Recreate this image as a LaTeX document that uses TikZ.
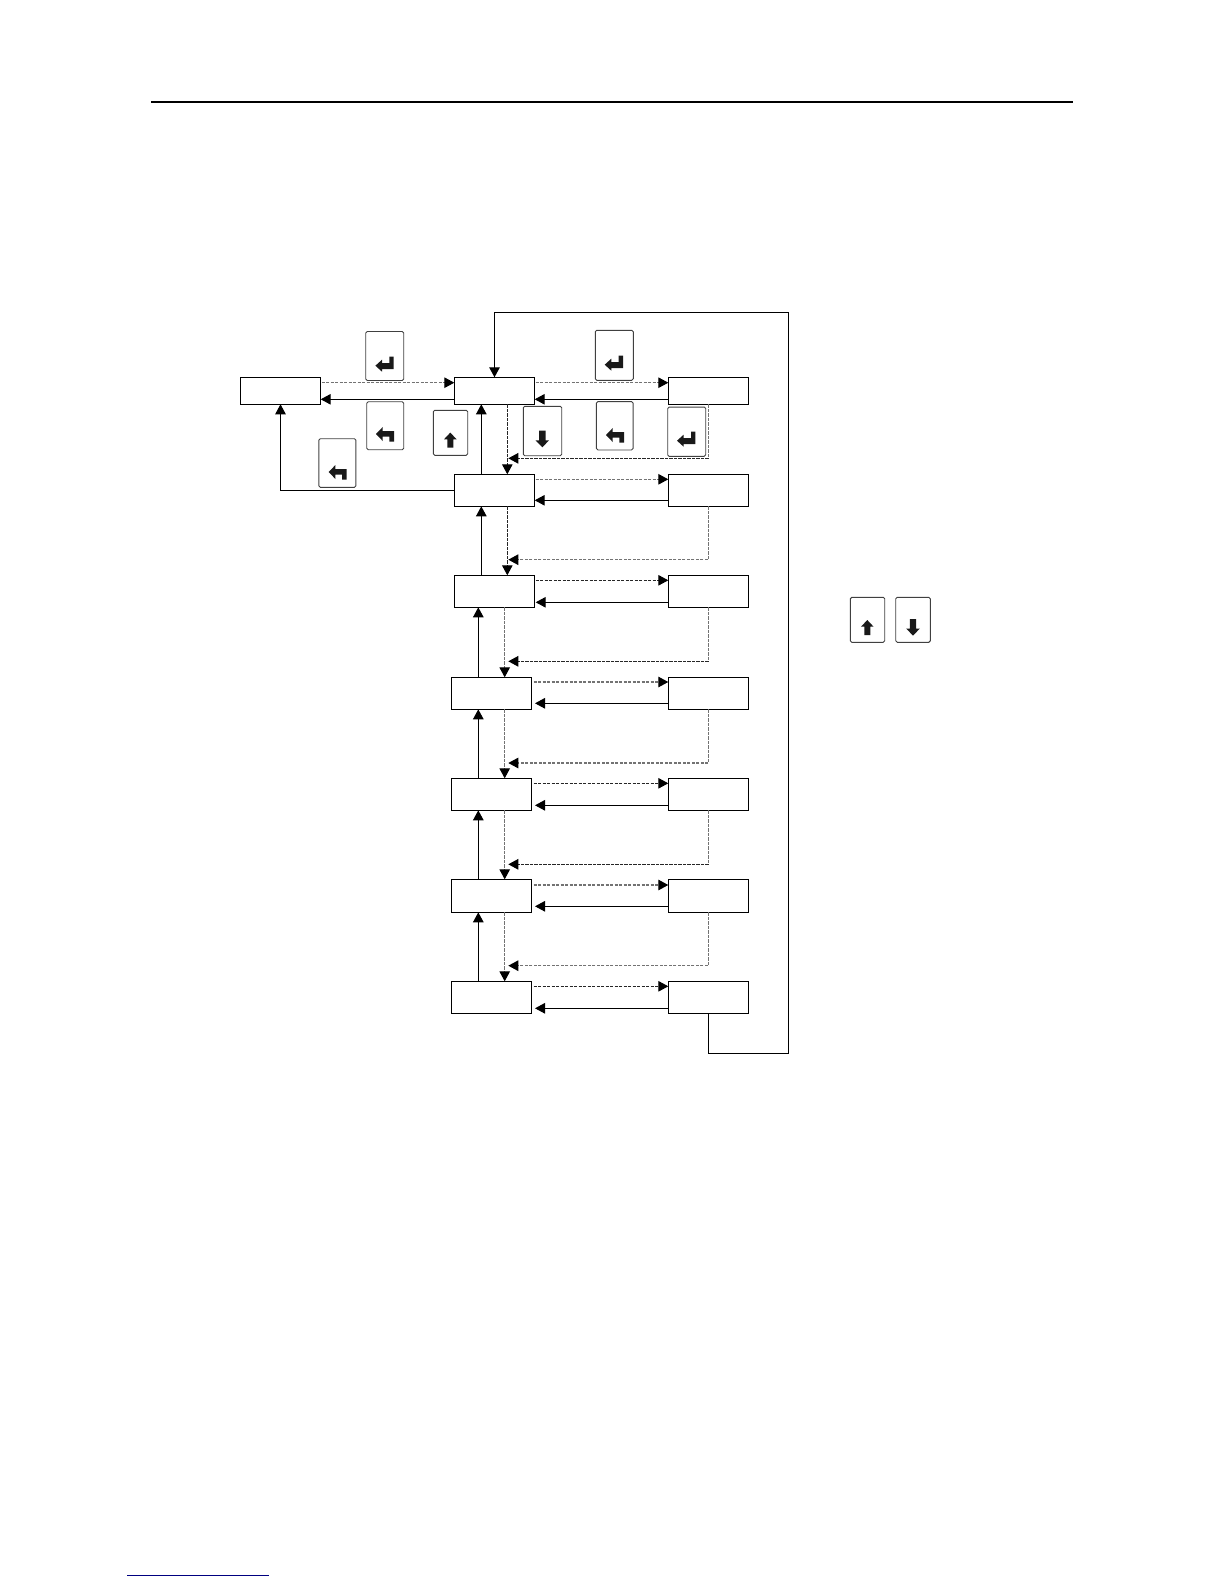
\documentclass[tikz,border=0pt]{standalone}
\usetikzlibrary{positioning,arrows.meta}

\begin{document}
\begin{tikzpicture}[x=1pt,y=-1pt,line width=1.1pt,
                    >={Triangle[length=10pt,width=10.5pt,color=black,fill=black]},
                    unit/.style={draw,inner sep=0pt,outer sep=0pt,
                                 minimum width=80.4pt,minimum height=32pt},
                    keycap/.style={draw=black!75,line width=.9pt,rounded corners=1.5pt,
                                   inner sep=0pt,minimum width=37pt,minimum height=49pt},
                    dashgray/.style={draw=black!55,line width=1.2pt,dash pattern=on 3.2pt off 1.3pt},
                    dashdark/.style={draw=black!85,line width=1.1pt,dash pattern=on 3.2pt off 1.3pt},
                    enterglyph/.pic={\fill[black!90] (-9.3,1.7) -- (-2.7,-4.3) -- (-2.7,-1) -- (4.7,-1)
                                     -- (4.7,-7.3) -- (9,-7.3) -- (9,5) -- (-2.7,5) -- (-2.7,7.7) -- cycle;},
                    backglyph/.pic={\fill[black!90] (-9,0) -- (-2.3,-7) -- (-2.3,-3) -- (9,-3) -- (9,7.7)
                                    -- (4.3,7.7) -- (4.3,2.7) -- (-2.3,2.7) -- (-2.3,7) -- cycle;},
                    upglyph/.pic={\fill[black!90] (0,-7.7) -- (6.3,-1) -- (3,-1) -- (3,7.3) -- (-3,7.3)
                                  -- (-3,-1) -- (-6.3,-1) -- cycle;},
                    downglyph/.pic={\fill[black!90] (0,8.3) -- (6.8,1.3) -- (3.2,1.3) -- (3.2,-8.3)
                                    -- (-3.2,-8.3) -- (-3.2,1.3) -- (-6.8,1.3) -- cycle;}]
  \useasboundingbox (0,0) rectangle (1224,1584);
  % page rules
  \coordinate (headl) at (151,101.7);
  \coordinate (headr) at (1073,101.7);
  \coordinate (footl) at (127,1575);
  \coordinate (footr) at (269,1575);
  \draw[line width=2.3pt] (headl) -- (headr);
  \draw[draw=blue!50!black,line width=1pt] (footl) -- (footr);

  % boxes, middle column and right column
  \node[unit,minimum height=27pt] (m1) at (494.5,390.8) {};
  \node[unit,minimum height=27pt,left=133.6pt of m1] (back) {};
  \node[unit,minimum height=27pt,right=133.6pt of m1] (r1) {};
  \node[unit,below=70pt of m1] (m2) {};
  \node[unit,right=133.6pt of m2] (r2) {};
  \node[unit,below=69pt of m2] (m3) {};
  \node[unit,right=133.6pt of m3] (r3) {};
  \node[unit,below=70pt of m3,xshift=-3pt] (m4) {};
  \node[unit,right=136.6pt of m4] (r4) {};
  \node[unit,below=69pt of m4] (m5) {};
  \node[unit,right=136.6pt of m5] (r5) {};
  \node[unit,minimum height=33pt,below=69pt of m5] (m6) {};
  \node[unit,minimum height=33pt,right=136.6pt of m6] (r6) {};
  \node[unit,below=69pt of m6] (m7) {};
  \node[unit,right=136.6pt of m7] (r7) {};

  % keys
  \node[keycap,minimum width=38pt] (enter1) at (384.7,356) {};
  \pic at (384.7,364) {enterglyph};
  \node[keycap,minimum height=48pt] (esc1) at (385.2,425.7) {};
  \pic at (385,434) {backglyph};
  \node[keycap,minimum height=48.6pt] (esc2) at (337.4,463) {};
  \pic at (337.7,472) {backglyph};
  \node[keycap,minimum width=34.4pt,minimum height=45pt] (up1) at (450.5,432.8) {};
  \pic at (450.3,440.3) {upglyph};
  \node[keycap,minimum width=38.4pt,minimum height=49.4pt] (down1) at (542.5,431) {};
  \pic at (542.3,439) {downglyph};
  \node[keycap,minimum width=38pt,minimum height=50pt] (enter2) at (614.3,355.3) {};
  \pic at (614,363) {enterglyph};
  \node[keycap,minimum width=36.7pt,minimum height=48.3pt] (esc3) at (614.7,425.8) {};
  \pic at (615,435) {backglyph};
  \node[keycap,minimum width=38pt,minimum height=49.3pt] (enter3) at (686.7,431.7) {};
  \pic at (686.3,439) {enterglyph};
  \node[keycap,minimum width=34.4pt,minimum height=45pt] (up2) at (867.5,619.8) {};
  \pic at (867.3,627.7) {upglyph};
  \node[keycap,minimum width=34.6pt,minimum height=45pt] (down2) at (913,619.8) {};
  \pic at (913,627.3) {downglyph};

  % top row
  \draw[dashgray,->] ([xshift=1pt,yshift=8.1pt]back.east) -- ([yshift=8.1pt]m1.west);
  \draw[->] ([yshift=-8.5pt]m1.west) -- ([yshift=-8.5pt]back.east);
  \draw[dashgray,->] ([xshift=1pt,yshift=8.1pt]m1.east) -- ([yshift=8.1pt]r1.west);
  \draw[->] ([yshift=-8.5pt]r1.west) -- ([yshift=-8.5pt]m1.east);
  \draw[->] (m2.west) -| (back.south);

  % rows across
  \draw[dashgray,->] ([xshift=1pt,yshift=11pt]m2.east) -- ([yshift=11pt]r2.west);
  \draw[->] ([yshift=-10pt]r2.west) -- ([yshift=-10pt]m2.east);
  \draw[dashdark,->] ([xshift=1pt,yshift=11pt]m3.east) -- ([yshift=11pt]r3.west);
  \draw[->] ([yshift=-11pt]r3.west) -- ([xshift=1pt,yshift=-11pt]m3.east);
  \draw[dashgray,->] ([xshift=2pt,yshift=11.3pt]m4.east) -- ([yshift=11.3pt]r4.west);
  \draw[->] ([yshift=-10pt]r4.west) -- ([xshift=3.3pt,yshift=-10pt]m4.east);
  \draw[dashdark,->] ([xshift=2pt,yshift=11pt]m5.east) -- ([yshift=11pt]r5.west);
  \draw[->] ([yshift=-11pt]r5.west) -- ([xshift=3.3pt,yshift=-11pt]m5.east);
  \draw[dashgray,->] ([xshift=2pt,yshift=10.8pt]m6.east) -- ([yshift=10.8pt]r6.west);
  \draw[->] ([yshift=-10.5pt]r6.west) -- ([xshift=3.3pt,yshift=-10.5pt]m6.east);
  \draw[dashdark,->] ([xshift=2pt,yshift=11pt]m7.east) -- ([yshift=11pt]r7.west);
  \draw[->] ([yshift=-11pt]r7.west) -- ([xshift=3.3pt,yshift=-11pt]m7.east);

  % up the middle column
  \draw[->] ([xshift=-13.2pt]m2.north) -- ([xshift=-13.2pt]m1.south);
  \draw[->] ([xshift=-13.2pt]m3.north) -- ([xshift=-13.2pt]m2.south);
  \draw[->] ([xshift=-13.2pt]m4.north) -- ([xshift=-16.2pt]m3.south);
  \draw[->] ([xshift=-13.2pt]m5.north) -- ([xshift=-13.2pt]m4.south);
  \draw[->] ([xshift=-13.2pt]m6.north) -- ([xshift=-13.2pt]m5.south);
  \draw[->] ([xshift=-13.2pt]m7.north) -- ([xshift=-13.2pt]m6.south);

  % down the middle column
  \draw[dashdark,->] ([xshift=12.8pt]m1.south) -- ([xshift=12.8pt]m2.north);
  \draw[dashdark,->] ([xshift=12.8pt]m2.south) -- ([xshift=12.8pt]m3.north);
  \draw[dashgray,->] ([xshift=10.2pt]m3.south) -- ([xshift=13.2pt]m4.north);
  \draw[dashgray,->] ([xshift=13.2pt]m4.south) -- ([xshift=13.2pt]m5.north);
  \draw[dashgray,->] ([xshift=13.2pt]m5.south) -- ([xshift=13.2pt]m6.north);
  \draw[dashgray,->] ([xshift=13.2pt]m6.south) -- ([xshift=13.2pt]m7.north);

  % returns from the right column
  \coordinate (ret1) at (508.3,458.3);
  \coordinate (ret2) at (508.3,559.7);
  \coordinate (ret3) at (508.3,661.3);
  \coordinate (ret4) at (508.3,763);
  \coordinate (ret5) at (508.3,864.3);
  \coordinate (ret6) at (508.3,965.7);
  \draw[dashgray] (r1.south) -- (r1.south |- ret1);
  \draw[dashdark,->] (r1.south |- ret1) -- (ret1);
  \draw[dashgray,->] (r2.south) |- (ret2);
  \draw[dashgray] (r3.south) -- (r3.south |- ret3);
  \draw[dashdark,->] (r3.south |- ret3) -- (ret3);
  \draw[dashgray,->] (r4.south) |- (ret4);
  \draw[dashgray] (r5.south) -- (r5.south |- ret5);
  \draw[dashdark,->] (r5.south |- ret5) -- (ret5);
  \draw[dashgray,->] (r6.south) |- (ret6);

  % back round to the top
  \coordinate (loopb) at (788.3,1053.3);
  \coordinate (loopt) at (788.3,312.7);
  \draw[->] (r7.south) |- (loopb) -- (loopt) -| (m1.north);
\end{tikzpicture}
\end{document}
